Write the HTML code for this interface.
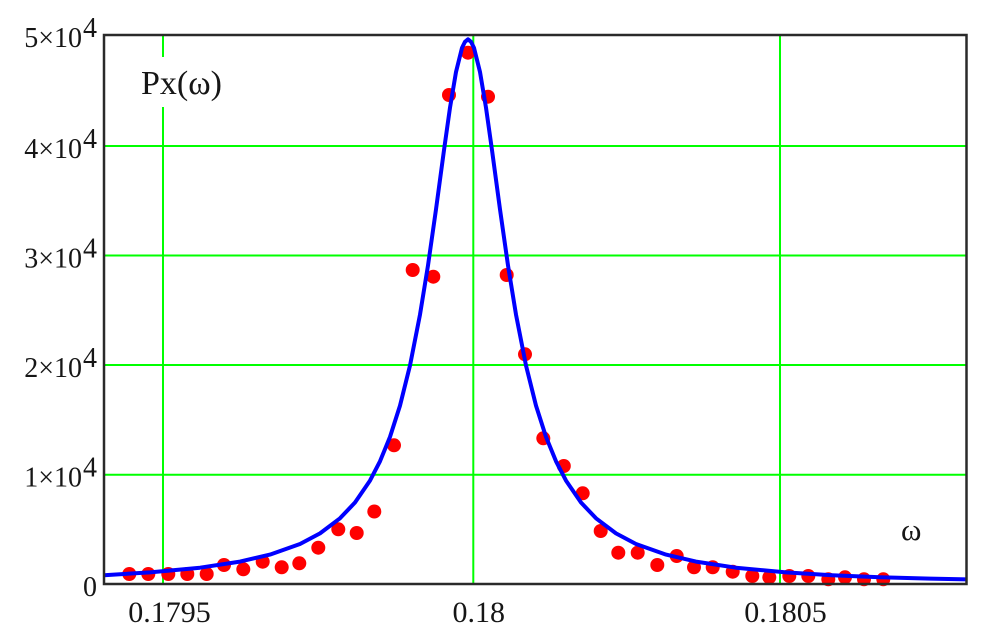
<!DOCTYPE html>
<html>
<head>
<meta charset="utf-8">
<style>
html,body{margin:0;padding:0;background:#fff;}
svg{display:block;}
text{font-family:"Liberation Serif","DejaVu Serif",serif;fill:#161616;}
</style>
</head>
<body>
<svg width="992" height="640" viewBox="0 0 992 640" xmlns="http://www.w3.org/2000/svg">
<rect x="0" y="0" width="992" height="640" fill="#fff"/>
<g stroke="#00ff00" stroke-width="2">
<line x1="163" y1="35" x2="163" y2="584"/>
<line x1="473.3" y1="35" x2="473.3" y2="584"/>
<line x1="780" y1="35" x2="780" y2="584"/>
<line x1="104" y1="146" x2="967" y2="146"/>
<line x1="104" y1="255.5" x2="967" y2="255.5"/>
<line x1="104" y1="365" x2="967" y2="365"/>
<line x1="104" y1="474.7" x2="967" y2="474.7"/>
</g>
<rect x="138" y="57" width="94" height="50" fill="#fff"/>
<text x="141" y="94" font-size="34">Px(ω)</text>
<text x="901" y="540" font-size="31">ω</text>
<g fill="#ff0000">
<circle cx="129.3" cy="574" r="7"/>
<circle cx="148.3" cy="574" r="7"/>
<circle cx="168.3" cy="574" r="7"/>
<circle cx="187.3" cy="574" r="7"/>
<circle cx="206.7" cy="574" r="7"/>
<circle cx="224" cy="565" r="7"/>
<circle cx="243.3" cy="569.3" r="7"/>
<circle cx="262.7" cy="561.7" r="7"/>
<circle cx="281.7" cy="567.3" r="7"/>
<circle cx="299.3" cy="563.3" r="7"/>
<circle cx="318.3" cy="547.7" r="7"/>
<circle cx="338.3" cy="529.3" r="7"/>
<circle cx="356.7" cy="533" r="7"/>
<circle cx="374.3" cy="511.5" r="7"/>
<circle cx="394" cy="445.3" r="7"/>
<circle cx="412.7" cy="270" r="7"/>
<circle cx="433.3" cy="276.7" r="7"/>
<circle cx="449" cy="95" r="7"/>
<circle cx="468" cy="52.7" r="7"/>
<circle cx="488" cy="96.7" r="7"/>
<circle cx="506.7" cy="275" r="7"/>
<circle cx="525" cy="354.3" r="7"/>
<circle cx="543.3" cy="438.3" r="7"/>
<circle cx="563.8" cy="466" r="7"/>
<circle cx="582.7" cy="493.3" r="7"/>
<circle cx="600.7" cy="531" r="7"/>
<circle cx="618.3" cy="552.7" r="7"/>
<circle cx="637.7" cy="552.7" r="7"/>
<circle cx="657.3" cy="565" r="7"/>
<circle cx="676.7" cy="556" r="7"/>
<circle cx="694" cy="567.3" r="7"/>
<circle cx="712.7" cy="567.3" r="7"/>
<circle cx="732.7" cy="571.7" r="7"/>
<circle cx="752.3" cy="576" r="7"/>
<circle cx="769.3" cy="577.3" r="7"/>
<circle cx="789.3" cy="576" r="7"/>
<circle cx="808.3" cy="576" r="7"/>
<circle cx="828.3" cy="579.3" r="7"/>
<circle cx="845" cy="577.3" r="7"/>
<circle cx="864" cy="579.3" r="7"/>
<circle cx="883.3" cy="579.3" r="7"/>
</g>
<polyline fill="none" stroke="#0000ff" stroke-width="4" stroke-linejoin="round"
points="104,575.2 150,572.4 200,567.7 240,561.6 270,554.6 300,544.0 320,533.4 340,518.3 355,502.5 370,480.6 380,461.3 390,436.9 400,405.6 410,365.5 420,314.6 428,265.4 436,209.4 444,150.1 450,107.7 456,72.0 462,47.9 465,41.8 468,39.3 471,41.8 474,47.9 480,72.0 486,107.7 492,150.1 500,209.4 508,265.4 516,314.6 526,365.5 536,405.6 546,436.9 556,461.3 566,480.6 581,502.5 596,518.3 616,533.4 636,544.0 666,554.6 696,561.6 736,567.7 786,572.4 832,575.2 880,577.2 930,578.6 967,579.4"/>
<rect x="104" y="35" width="862.5" height="549" fill="none" stroke="#2a2a2a" stroke-width="2.5"/>
<g font-size="28">
<text x="82" y="47" text-anchor="end">5×10</text><text x="83" y="37">4</text>
<text x="82" y="158" text-anchor="end">4×10</text><text x="83" y="148">4</text>
<text x="82" y="267.5" text-anchor="end">3×10</text><text x="83" y="257.5">4</text>
<text x="82" y="377" text-anchor="end">2×10</text><text x="83" y="367">4</text>
<text x="82" y="486.7" text-anchor="end">1×10</text><text x="83" y="476.7">4</text>
<text x="97" y="596" text-anchor="end">0</text>
</g>
<g font-size="30" text-anchor="middle">
<text x="169.5" y="622">0.1795</text>
<text x="478.7" y="622">0.18</text>
<text x="785.5" y="622">0.1805</text>
</g>
</svg>
</body>
</html>
